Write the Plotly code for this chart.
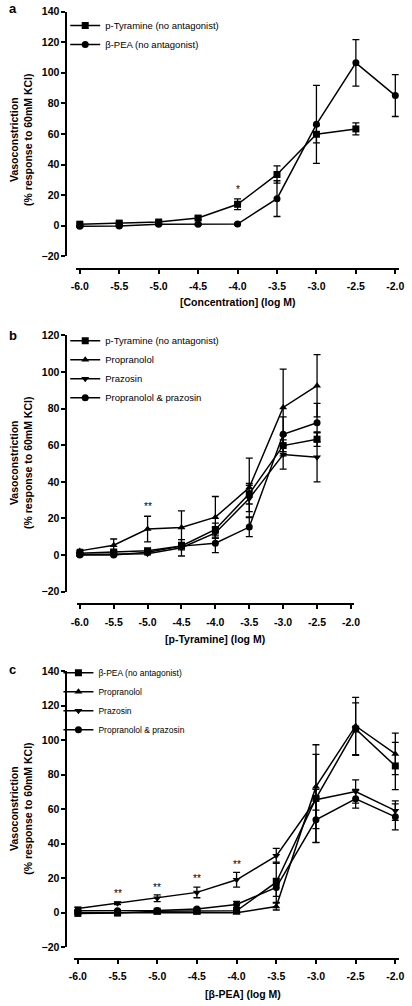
import plotly.graph_objects as go

W, H = 412, 1006

# ---------------- data ----------------
xticks = [-6.0, -5.5, -5.0, -4.5, -4.0, -3.5, -3.0, -2.5, -2.0]
xtick_text = ["-6.0", "-5.5", "-5.0", "-4.5", "-4.0", "-3.5", "-3.0", "-2.5", "-2.0"]
x_tyr = [-6.0, -5.5, -5.0, -4.5, -4.0, -3.5, -3.0, -2.5]
x_pea = [-6.0, -5.5, -5.0, -4.5, -4.0, -3.5, -3.0, -2.5, -2.0]

# panel a / b : p-Tyramine (no antagonist)
tyr = [1.0, 1.7, 2.4, 5.0, 14.0, 33.5, 59.8, 63.3]
tyr_err = [0.8, 0.8, 0.9, 1.2, 3.5, 5.6, 5.6, 3.9]
# panel a / c : beta-PEA (no antagonist)
pea = [-0.4, -0.2, 0.9, 0.9, 1.1, 17.7, 66.3, 106.5, 85.1]
pea_err = [0.5, 0.5, 0.6, 0.6, 0.6, 11.7, 25.5, 15.2, 13.7]

# panel b : p-Tyramine with antagonists
b_prop = [2.3, 5.4, 14.2, 15.1, 20.7, 36.9, 80.6, 92.5]
b_prop_err = [0.8, 3.4, 7.0, 9.0, 11.3, 16.0, 20.9, 17.0]
b_praz = [0.3, 0.4, 0.7, 4.0, 12.1, 30.9, 54.9, 53.4]
b_praz_err = [0.5, 0.5, 0.6, 4.5, 3.0, 7.2, 8.0, 13.4]
b_pp = [0.1, 0.1, 1.5, 4.9, 6.5, 15.3, 66.0, 72.3]
b_pp_err = [0.5, 0.5, 0.8, 2.0, 5.1, 5.2, 9.5, 10.5]

# panel c : beta-PEA with antagonists
c_prop = [0.0, 0.0, 0.0, 0.0, 0.0, 3.6, 73.1, 108.3, 92.1]
c_prop_err = [0.5, 0.5, 0.5, 0.5, 0.5, 2.0, 24.3, 16.6, 12.0]
c_praz = [2.5, 5.5, 8.4, 11.8, 19.1, 33.0, 65.5, 70.3, 59.2]
c_praz_err = [0.8, 0.8, 2.0, 3.1, 4.3, 4.3, 6.0, 6.7, 5.7]
c_pp = [1.1, 1.1, 1.3, 2.1, 4.8, 14.7, 53.9, 66.1, 55.6]
c_pp_err = [0.5, 0.5, 0.5, 0.6, 1.8, 5.2, 13.2, 5.4, 7.5]

# significance markers
sig_a_x, sig_a_y, sig_a_t = [-4.0], [23.8], ["*"]
sig_b_x, sig_b_y, sig_b_t = [-5.0], [26.8], ["**"]
sig_c_x = [-5.5, -5.0, -4.5, -4.0]
sig_c_y = [10.9, 14.5, 19.7, 27.7]
sig_c_t = ["**", "**", "**", "**"]

yticks_a = [-20, 0, 20, 40, 60, 80, 100, 120, 140]
yticks_b = [-20, 0, 20, 40, 60, 80, 100, 120]

# ---------------- helpers ----------------
FONT = "Liberation Sans, Arial, sans-serif"
XMIN, XMAX = -6.045, -1.955


def fx(px):
    return px / W


def fy(py):
    return 1 - py / H


def xdom(px_m6, px_m2):
    s = (px_m2 - px_m6) / 4.0
    return [fx(px_m6 + (XMIN + 6.0) * s), fx(px_m2 + (XMAX + 2.0) * s)]


fig = go.Figure()


def add(x, y, err, name, symbol, xa, ya, legend, size=7):
    fig.add_trace(go.Scatter(
        x=x, y=y, name=name, mode="lines+markers",
        xaxis=xa, yaxis=ya, legend=legend, cliponaxis=False,
        line=dict(color="black", width=1.5),
        marker=dict(symbol=symbol, size=size, color="black"),
        error_y=dict(type="data", array=err, visible=True, color="black",
                     thickness=1.3, width=3.5),
    ))


# panel a
add(x_tyr, tyr, tyr_err, "p-Tyramine (no antagonist)", "square", "x", "y", "legend")
add(x_pea, pea, pea_err, "β-PEA (no antagonist)", "circle", "x", "y", "legend")
# panel b
add(x_tyr, tyr, tyr_err, "p-Tyramine (no antagonist)", "square", "x2", "y2", "legend2")
add(x_tyr, b_prop, b_prop_err, "Propranolol", "triangle-up", "x2", "y2", "legend2")
add(x_tyr, b_praz, b_praz_err, "Prazosin", "triangle-down", "x2", "y2", "legend2")
add(x_tyr, b_pp, b_pp_err, "Propranolol & prazosin", "circle", "x2", "y2", "legend2")
# panel c
add(x_pea, pea, pea_err, "β-PEA (no antagonist)", "square", "x3", "y3", "legend3")
add(x_pea, c_prop, c_prop_err, "Propranolol", "triangle-up", "x3", "y3", "legend3")
add(x_pea, c_praz, c_praz_err, "Prazosin", "triangle-down", "x3", "y3", "legend3")
add(x_pea, c_pp, c_pp_err, "Propranolol & prazosin", "circle", "x3", "y3", "legend3")

# ---------------- axes ----------------
tickfont = dict(family=FONT, size=10.5, color="black", weight="bold")


def xaxis(dom, pos):
    return dict(domain=dom, range=[XMIN, XMAX], anchor="free", position=pos,
                tickvals=xticks, ticktext=xtick_text, ticks="outside",
                ticklen=4, tickwidth=1.6, tickcolor="black",
                showline=True, linewidth=2, linecolor="black",
                showgrid=False, zeroline=False, tickfont=tickfont,
                ticklabelstandoff=4)


def yaxis(dom, rng, tv):
    return dict(domain=dom, range=rng, anchor="free", position=fx(62.3),
                tickvals=tv, ticks="outside", ticklen=4, tickwidth=1.6,
                tickcolor="black", showline=True, linewidth=2,
                linecolor="black", showgrid=False, zeroline=False,
                tickfont=tickfont)


layout = dict(
    width=W, height=H, margin=dict(l=0, r=0, t=0, b=0),
    paper_bgcolor="white", plot_bgcolor="white",
    xaxis=xaxis(xdom(76, 401), fy(265.7)),
    yaxis=yaxis([fy(253.3), fy(5.7)], [-20, 140], yticks_a),
    xaxis2=xaxis(xdom(76, 355.3), fy(605.3)),
    yaxis2=yaxis([fy(592.8), fy(333.3)], [-20, 120], yticks_b),
    xaxis3=xaxis(xdom(74, 401), fy(964)),
    yaxis3=yaxis([fy(952.6), fy(673.3)], [-20, 140], yticks_a),
)


def leg(px, py, size):
    return dict(x=fx(px), y=fy(py), xanchor="left", yanchor="top",
                bgcolor="rgba(0,0,0,0)", borderwidth=0, itemwidth=30,
                font=dict(family=FONT, size=size, color="black"),
                tracegroupgap=0)


layout["legend"] = leg(61, 5, 9.5)
layout["legend2"] = leg(61, 324, 9.5)
layout["legend3"] = leg(54, 660, 8.5)
fig.update_layout(**layout)

# ---------------- annotations ----------------
ann = []
title_font = dict(family=FONT, size=10.5, color="black", weight="bold")
ytitle = "Vasoconstriction<br>(% response to 60mM KCl)"
for cy in (136, 463, 813):
    ann.append(dict(text=ytitle, xref="paper", yref="paper", x=fx(16), y=fy(cy),
                    xanchor="center", yanchor="middle", textangle=-90,
                    showarrow=False, font=title_font))
for txt, cx, cy in (("[Concentration] (log M)", 238, 300),
                    ("[p-Tyramine] (log M)", 215, 641),
                    ("[β-PEA] (log M)", 244, 1000)):
    ann.append(dict(text=txt, xref="paper", yref="paper", x=fx(cx), y=fy(cy),
                    xanchor="center", yanchor="middle", showarrow=False,
                    font=title_font))
for lab, cy in (("a", 3), ("b", 333), ("c", 672)):
    ann.append(dict(text=lab, xref="paper", yref="paper", x=fx(1), y=fy(cy),
                    xanchor="left", yanchor="middle", showarrow=False,
                    font=dict(family=FONT, size=13, color="black", weight="bold")))
for xs, ys, ts, xr, yr in ((sig_a_x, sig_a_y, sig_a_t, "x", "y"),
                           (sig_b_x, sig_b_y, sig_b_t, "x2", "y2"),
                           (sig_c_x, sig_c_y, sig_c_t, "x3", "y3")):
    for xv, yv, t in zip(xs, ys, ts):
        ann.append(dict(text=t, xref=xr, yref=yr, x=xv, y=yv, showarrow=False,
                        xanchor="center", yanchor="middle",
                        font=dict(family=FONT, size=10, color="black")))
fig.update_layout(annotations=ann)

fig.write_html(
    "out.html",
    config={"displayModeBar": False},
    post_script="document.body.style.margin='0';document.body.style.overflow='hidden';",
)
